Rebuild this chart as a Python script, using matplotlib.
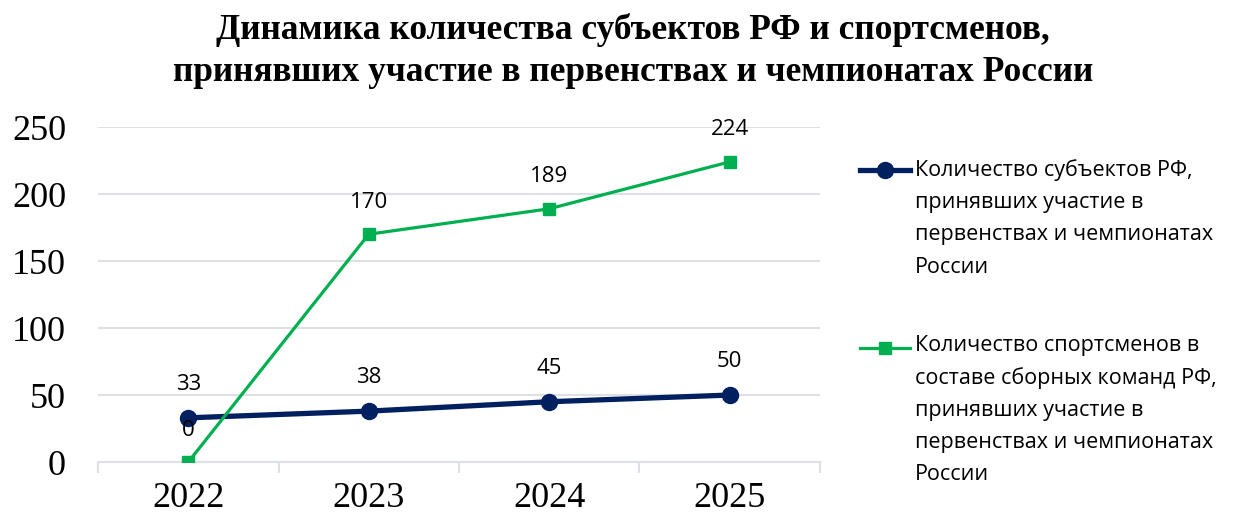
import matplotlib
matplotlib.use("Agg")
import matplotlib.pyplot as plt
from matplotlib.font_manager import FontProperties

# Data
years = ["2022", "2023", "2024", "2025"]
regions = [33, 38, 45, 50]
athletes = [0, 170, 189, 224]
y_ticks = [0, 50, 100, 150, 200, 250]

title = ("Динамика количества субъектов РФ и спортсменов,\n"
         "принявших участие в первенствах и чемпионатах России")
legend_regions = ("Количество субъектов РФ,\nпринявших участие в\n"
                  "первенствах и чемпионатах\nРоссии")
legend_athletes = ("Количество спортсменов в\nсоставе сборных команд РФ,\n"
                   "принявших участие в\nпервенствах и чемпионатах\nРоссии")

NAVY = "#002060"
GREEN = "#00B050"
GRID = "#dde1e6"
SANS = "Open Sans"
SERIF = "Liberation Serif"
LEG_SIZE = 15.5
LEG_SPACING = 1.69

fig = plt.figure(figsize=(12.36, 5.18), dpi=100)
ax = fig.add_axes([0.0793, 0.108, 0.5841, 0.6468])

x = list(range(len(years)))
ln1, = ax.plot(x, regions, color=NAVY, linewidth=3.8, marker="o",
               markersize=11.5, zorder=3)
ln2, = ax.plot(x, athletes, color=GREEN, linewidth=2.3, marker="s",
               markersize=9, zorder=4)

# data labels above points
for xi, v in zip(x, regions):
    ax.annotate(str(v), (xi, v), xytext=(0, 24), textcoords="offset points",
                ha="center", va="center", fontsize=16, family=SANS)
for xi, v in zip(x, athletes):
    ax.annotate(str(v), (xi, v), xytext=(0, 23), textcoords="offset points",
                ha="center", va="center", fontsize=16, family=SANS)

ax.set_xlim(-0.5, len(years) - 0.5)
ax.set_ylim(0, 250)
ax.set_yticks(y_ticks)
ax.set_yticklabels([str(t) for t in y_ticks], family=SERIF, fontsize=26)
ax.set_xticks(x)
ax.set_xticklabels(years, family=SERIF, fontsize=26)
ax.set_xticks([i - 0.5 for i in range(len(years) + 1)], minor=True)
ax.tick_params(axis="y", length=0, pad=23)
ax.tick_params(axis="x", which="major", length=0, pad=14)
ax.tick_params(axis="x", which="minor", length=8, width=1.5, color=GRID)

ax.grid(axis="y", color=GRID, linewidth=1.5)
ax.set_axisbelow(True)
for side in ["left", "right", "top"]:
    ax.spines[side].set_visible(False)
ax.spines["bottom"].set_color(GRID)
ax.spines["bottom"].set_linewidth(1.5)

fig.suptitle(title, family=SERIF, fontweight="bold", fontsize=25.5,
             x=0.512, y=0.975, va="top", linespacing=1.36)

# two legends so each handle can sit on the first line of its label
leg_kw = dict(loc="upper left", frameon=False,
              prop={"family": SANS, "size": LEG_SIZE}, handlelength=2.3,
              handletextpad=0.25, borderpad=0, borderaxespad=0)
leg1 = fig.legend([ln1], [legend_regions], bbox_to_anchor=(0.696, 0.692), **leg_kw)
leg2 = fig.legend([ln2], [legend_athletes], bbox_to_anchor=(0.696, 0.354), **leg_kw)

renderer = fig.canvas.get_renderer()
fp = FontProperties(family=SANS, size=LEG_SIZE)
_, lp_h, lp_d = renderer.get_text_width_height_descent("lp", fp, ismath=False)
step_pt = LEG_SPACING * (lp_h - lp_d) * 72 / fig.dpi

for leg in (leg1, leg2):
    txt = leg.get_texts()[0]
    txt.set_linespacing(LEG_SPACING)
    n = txt.get_text().count("\n") + 1
    shift = (n - 1) * step_pt / 2 + 6
    area = leg._legend_handle_box.get_children()[0].get_children()[0].get_children()[0]
    for art in area.get_children():
        art.set_ydata([y + shift for y in art.get_ydata()])

fig.savefig("out.png", dpi=100)
